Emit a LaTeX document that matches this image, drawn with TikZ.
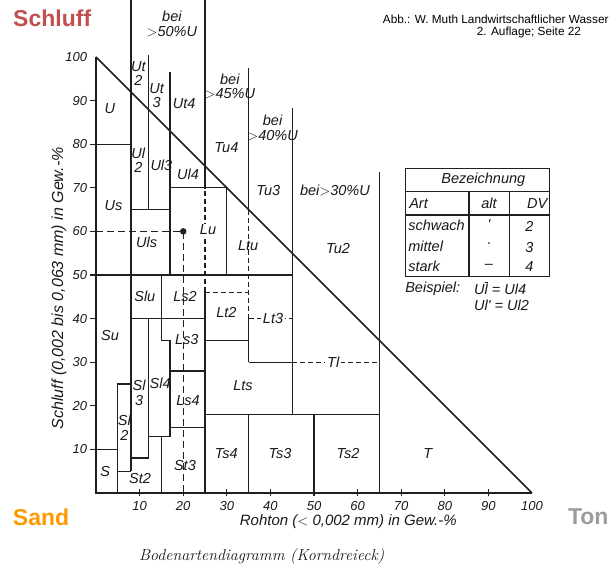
\documentclass[tikz,border=0pt]{standalone}
\usepackage{fontspec}
\usepackage{xcolor}
\newfontfamily\dinfont{Liberation Sans}
\definecolor{schluffred}{HTML}{C0504D}
\definecolor{sandorange}{HTML}{FF9900}
\definecolor{tongray}{HTML}{9C9C9C}

\begin{document}
\begin{tikzpicture}[
    x=4.36pt, y=4.36pt,
    bound/.style={line width=1.3pt, draw=black!88},
    dashbound/.style={bound, dash pattern=on 5pt off 3pt},
    soil/.style={font=\dinfont\itshape\fontsize{14.5}{14.5}\selectfont, text=black!90, inner sep=0pt, align=center},
    gap/.style={soil, fill=white, inner xsep=2pt, inner ysep=1pt},
    numlabel/.style={font=\dinfont\itshape\fontsize{13}{13}\selectfont, text=black!90, inner sep=0pt},
    axistitle/.style={font=\dinfont\itshape\fontsize{15}{15}\selectfont, text=black!90, inner sep=0pt},
    fraction/.style={font=\dinfont\bfseries\fontsize{23}{23}\selectfont, inner sep=0pt},
    source/.style={font=\dinfont\fontsize{11.8}{12}\selectfont, inner sep=0pt, anchor=west},
  ]
  \useasboundingbox (-22.02,-17.89) rectangle (118.12,113.07);
  \fill[white] (-22.02,-17.89) rectangle (118.12,113.07);

  % Axes and triangle
  \draw[bound] (0,100) -- (0,0) -- (100,0);
  \draw[bound, line width=1.7pt] (0,100) -- (100,0);
  \foreach \v in {10,20,...,90} {
    \draw[bound] (-1.4,\v) -- (0.3,\v);
    \draw[bound] (\v,-0.8) -- (\v,0.8);
  }
  \foreach \v in {10,20,...,100} {
    \node[numlabel, anchor=east] (ylab\v) at (-2,\v) {\v};
    \node[numlabel, anchor=north] (xlab\v) at (\v,-2) {\v};
  }

  % Sand and loam corner
  \draw[bound] (0,10) -- (5,10);
  \draw[bound] (5,0) -- (5,25) -- (8,25);
  \draw[bound] (5,5) -- (8,5);
  \draw[bound] (8,5) -- (8,113.07);
  \draw[bound] (8,8) -- (12,8) -- (12,40);
  \draw[bound] (15,0) -- (15,13);
  \draw[bound] (12,13) -- (17,13) -- (17,35) -- (15,35) -- (15,50);
  \draw[bound] (17,15) -- (25,15);
  \draw[bound] (17,28) -- (25,28);
  \draw[bound] (8,40) -- (25,40);
  \draw[bound] (0,50) -- (45,50);

  % Silt columns
  \draw[bound] (0,80) -- (8,80);
  \draw[bound] (8,65) -- (17,65);
  \draw[bound] (12,65) -- (12,100.4);
  \draw[bound] (17,50) -- (17,96.6);
  \draw[bound] (17,70) -- (30,70) -- (30,50);

  % Clay side
  \draw[bound] (25,0) -- (25,46);
  \draw[dashbound] (25,46) -- (25,70);
  \draw[bound] (25,70) -- (25,113.07);
  \draw[dashbound] (25,46) -- (35,46);
  \draw[bound] (25,35) -- (35,35);
  \draw[bound] (35,0) -- (35,18);
  \draw[bound] (35,30) -- (35,40);
  \draw[dashbound] (35,40) -- (35,65);
  \draw[bound] (35,65) -- (35,97.4);
  \draw[bound] (35,30) -- (45,30);
  \draw[dashbound] (35,40) -- (45,40);
  \draw[dashbound] (45,30) -- (65,30);
  \draw[bound] (25,18) -- (65,18);
  \draw[bound] (45,18) -- (45,88.2);
  \draw[bound] (50,0) -- (50,18);
  \draw[bound] (65,0) -- (65,73.7);

  % Example point
  \draw[bound, dash pattern=on 7pt off 4pt] (0,60) -- (20,60) -- (20,0);
  \fill[black!88] (20,60) circle (0.75);

  % Soil classes
  \node[soil] (U) at (3.2,88.1) {U};
  \node[soil] (Ut2) at (9.7,96.2) {Ut\\2};
  \node[soil] (Ut3) at (13.9,91.2) {Ut\\3};
  \node[soil] (Ut4) at (20.2,89.3) {Ut4};
  \node[soil] (Tu4) at (29.9,79.3) {Tu4};
  \node[soil] (Ul2) at (9.7,76.3) {Ul\\2};
  \node[soil] (Ul3) at (15,75.1) {Ul3};
  \node[soil] (Ul4) at (21.1,73) {Ul4};
  \node[soil] (Us) at (4,66) {Us};
  \node[soil] (Uls) at (11.6,57.6) {Uls};
  \node[gap] (Lu) at (25.7,60.3) {Lu};
  \node[soil] (Ltu) at (34.9,56.8) {Ltu};
  \node[soil] (Tu3) at (39.5,69.4) {Tu3};
  \node[soil] (Tu2) at (55.5,56.1) {Tu2};
  \node[soil] (Slu) at (11.2,45) {Slu};
  \node[soil] (Ls2) at (20.4,45) {Ls2};
  \node[soil] (Lt2) at (29.9,41.5) {Lt2};
  \node[gap] (Lt3) at (40.6,40) {Lt3};
  \node[soil] (Su) at (3.2,36.1) {Su};
  \node[soil] (Ls3) at (20.8,35.1) {Ls3};
  \node[gap] (Tl) at (54.4,30) {Tl};
  \node[soil] (Lts) at (33.7,24.7) {Lts};
  \node[soil] (Sl4) at (14.7,25.1) {Sl4};
  \node[soil] (Sl3) at (9.9,23) {Sl\\3};
  \node[soil] (Ls4) at (21.1,21.3) {Ls4};
  \node[soil] (Sl2) at (6.5,15) {Sl\\2};
  \node[soil] (Ts4) at (29.9,9.1) {Ts4};
  \node[soil] (Ts3) at (42.2,9.1) {Ts3};
  \node[soil] (Ts2) at (57.8,9.1) {Ts2};
  \node[soil] (T) at (76.1,9.1) {T};
  \node[soil] (S) at (2.1,4.9) {S};
  \node[soil] (St2) at (10.1,3.4) {St2};
  \node[soil] (St3) at (20.4,6.4) {St3};

  % Column headings
  \node[soil] (bei50) at (17.4,107.6) {bei\\${>}$50\%U};
  \node[soil] (bei45) at (30.7,93.3) {bei\\${>}$45\%U};
  \node[soil] (bei40) at (40.5,83.7) {bei\\${>}$40\%U};
  \node[soil] (bei30) at (54.8,69.4) {bei${>}$30\%U};

  % Legend table
  \draw[bound] (71.03,49.6) rectangle (103.97,74.47);
  \draw[bound] (71.03,69.1) -- (103.97,69.1);
  \draw[bound] (71.03,63.76) -- (103.97,63.76);
  \draw[bound] (85.55,49.6) -- (85.55,69.1);
  \draw[bound] (94.79,49.6) -- (94.79,69.1);
  \node[soil] (bez) at (88.83,71.79) {Bezeichnung};
  \node[soil, anchor=west] (art) at (71.8,66.44) {Art};
  \node[soil] (alt) at (90.14,66.44) {alt};
  \node[soil] (dv) at (101.2,66.44) {DV};
  \node[soil, anchor=west] (schwach) at (71.6,61.3) {schwach};
  \node[soil, anchor=west] (mittel) at (71.6,56.6) {mittel};
  \node[soil, anchor=west] (stark) at (71.6,52) {stark};
  \node[soil] (alt2) at (90.14,61.6) {'};
  \node[soil] (alt3) at (90.14,56.9) {·};
  \node[soil] (alt4) at (90.14,52) {–};
  \node[soil] (dv2) at (99.4,61.1) {2};
  \node[soil] (dv3) at (99.4,56.4) {3};
  \node[soil] (dv4) at (99.4,51.9) {4};
  \node[soil, anchor=west] (bsp) at (70.9,46.95) {Beispiel:};
  \node[soil, anchor=west] (bsp1) at (86.7,46.95) {U$\overline{\mbox{l}}$ = Ul4};
  \node[soil, anchor=west] (bsp2) at (86.7,43.1) {Ul' = Ul2};

  % Axis titles and caption
  \node[axistitle, rotate=90, font=\dinfont\itshape\fontsize{16}{16}\selectfont] (ytitle) at (-8.49,46.95) {Schluff (0,002 bis 0,063 mm) in Gew.-\%};
  \node[axistitle] (xtitle) at (57.87,-6.58) {Rohton (${<}$ 0,002 mm) in Gew.-\%};
  \node[inner sep=0pt, font=\itshape\fontsize{16}{16}\selectfont, text=black!90] (caption) at (38,-14.6) {Bodenartendiagramm (Korndreieck)};

  % Fractions
  \node[fraction, text=schluffred] (schluff) at (-10.05,108.88) {Schluff};
  \node[fraction, text=sandorange] (sand) at (-12.61,-5.62) {Sand};
  \node[fraction, text=tongray] (ton) at (112.9,-5.44) {Ton};

  % Source
  \node[source] (src1) at (65.76,108.7) {Abb.: W. Muth Landwirtschaftlicher Wasser};
  \node[source] (src2) at (87.32,105.6) {2. Auflage; Seite 22};
\end{tikzpicture}
\end{document}
